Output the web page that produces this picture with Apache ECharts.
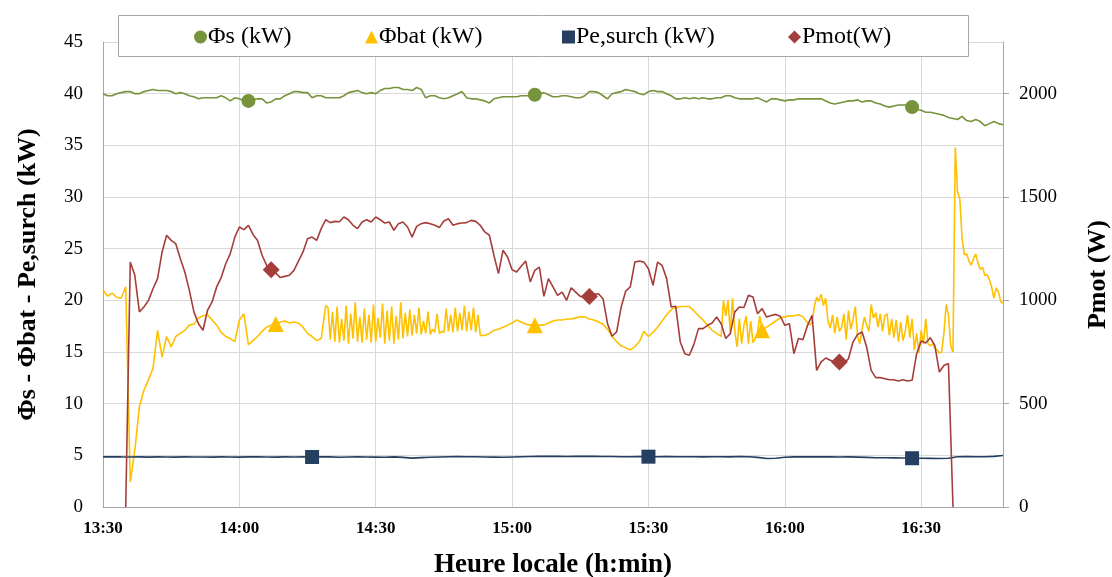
<!DOCTYPE html>
<html><head><meta charset="utf-8">
<script src="https://cdn.jsdelivr.net/npm/echarts@6/dist/echarts.min.js"></script>
<style>html,body{margin:0;padding:0;background:#fff}#c{width:1112px;height:577px}</style>
</head><body><div id="c"></div>
<script>
// time axis in minutes since midnight: 13:30 = 810, 16:48 = 1008
const xMin = 810, xMax = 1008, xInterval = 30;
const seriesNames = ['Φs (kW)', 'Φbat (kW)', 'Pe,surch (kW)', 'Pmot(W)'];

// Φs (kW), one value per minute from 13:30
const phiSStart = 810, phiSStep = 1;
const phiS = [
40.0,39.8,39.8,40.0,40.1,40.2,40.2,40.0,40.0,40.2,
40.3,40.4,40.3,40.3,40.3,40.2,40.0,40.1,40.0,39.8,
39.7,39.5,39.6,39.6,39.6,39.6,39.8,39.6,39.3,39.6,
39.5,39.3,39.3,39.4,39.5,39.5,39.1,39.2,39.5,39.5,
39.8,40.0,40.2,40.2,40.1,40.1,39.6,39.8,39.8,39.6,
39.6,39.6,39.6,39.8,40.1,40.2,40.3,40.1,40.0,40.1,
40.0,40.3,40.5,40.5,40.6,40.6,40.4,40.4,40.3,40.6,
40.4,39.6,39.8,39.8,39.6,39.5,39.6,39.8,40.0,40.2,
39.6,39.5,39.5,39.4,39.3,39.1,39.5,39.6,39.7,39.7,
39.7,39.7,39.8,39.8,39.8,39.9,40.0,40.1,39.9,39.7,
39.7,39.8,39.8,39.7,39.6,39.6,39.8,40.2,40.2,40.1,
39.8,39.5,40.0,40.1,40.2,40.4,40.3,40.2,40.0,39.9,
40.2,40.3,40.2,40.2,40.0,39.8,39.5,39.5,39.6,39.5,
39.6,39.5,39.6,39.5,39.5,39.6,39.6,39.8,39.8,39.6,
39.5,39.5,39.5,39.5,39.6,39.4,39.2,39.5,39.5,39.4,
39.3,39.4,39.4,39.5,39.5,39.5,39.5,39.5,39.5,39.3,
39.1,39.0,39.1,39.2,39.3,39.3,39.4,39.2,39.3,39.3,
39.1,39.0,38.8,38.7,38.8,38.9,38.9,38.9,38.7,38.5,
38.4,38.2,38.2,38.1,38.0,37.9,37.7,37.6,37.5,37.8,
37.4,37.3,37.5,37.3,36.9,37.1,37.3,37.1,37.0
];
const phiSMarkers = [842, 905, 988];

// Φbat (kW) in pieces: [start minute, step] + values
const batA = [
21.0,20.4,20.7,20.3,20.2,21.3,2.4,5.5,9.7,11.3,
12.3,13.4,17.1,14.5,16.5,15.5,16.5,16.8,17.1,17.6,
17.7,18.3,18.5,18.6,18.1,17.6,16.9,16.5,16.3,16.0,
18.1,18.7,15.7,16.1,16.5,17.0,17.4,17.6,17.7,17.9,
18.0,17.8,17.9,17.8,17.4,16.8,16.5,16.1,16.3,19.5
];
const batB = [
19.3,16.2,18.9,16.0,19.4,15.9,18.2,16.1,19.5,15.8,
18.7,16.3,19.8,16.0,18.4,15.9,19.2,16.2,18.6,15.9,
19.6,16.0,18.3,16.4,19.7,15.8,19.0,16.1,19.4,15.8,
18.5,16.2,19.8,16.3,18.8,16.5,19.1,16.6,18.6,16.8,
19.3,16.7,18.0,16.8,18.9,16.7,17.2,16.9,18.7,16.8,
17.0,16.9,19.2,17.0,18.6,16.9,19.3,17.0,18.8,17.1,
19.5,17.0,18.9,17.1,19.3,16.9,18.6,16.6
];
const batC = [
16.6,16.8,17.1,17.2,17.4,17.6,17.8,18.1,17.9,17.7,
17.6,17.6,17.6,17.6,17.8,18.0,18.1,18.1,18.2,18.2,
18.3,18.4,18.4,18.2,18.1,17.9,17.7,17.2,16.5,16.0,
15.6,15.4,15.2,15.5,16.0,17.0,16.5,16.9,17.4,18.0,
18.6,19.1,19.3,19.4,19.4,19.4,19.0,18.5,18.1,17.6,
17.1,16.8,16.5
];
const batD = [20.0,18.5,20.0,16.9,20.2,17.0,15.5,18.2,15.8,17.6,18.5,15.8,18.0,15.9,16.3,16.9,18.5];
const batE = [17.1,17.4,17.7,18.0,18.3,18.4,18.5,18.5,18.6,18.4];
const batF = [
17.8,17.6,17.9,19.4,20.3,19.9,20.6,19.5,20.2,18.0,
17.3,18.6,16.8,18.4,17.0,17.4,18.7,16.2,19.0,17.2,
18.1,19.4,16.5,15.8,17.2,18.4,17.6,17.0,19.6,18.3,
18.8,17.4,18.7,17.0,18.5,18.7,16.6,18.2,16.4,18.1,
16.0,17.9,16.1,17.0,18.6,16.4,18.2,15.2,16.8,14.9,
17.1,15.8,18.2,15.8,15.6,15.8,15.4,15.2,14.9,15.0,
16.8,19.6,18.6,15.6,15.0,34.8,30.5,29.8,26.0,24.4,
24.5,23.8,23.4,24.0,24.5,23.6,23.0,23.2,22.4,22.5,
22.0,21.3,20.2,21.2,20.8,19.9,19.7
];
const batPieces = [[810,1,batA],[859.5,0.5,batB],[894,1,batC],[946.5,0.5,batD],[955,1,batE],[965,0.5,batF]];
const batMarkers = [848, 905, 955];

// Pe,surch (kW), every 2 minutes from 13:30
const peStart = 810, peStep = 2;
const peSurch = [
4.85,4.87,4.85,4.84,4.85,4.83,4.85,4.84,4.83,4.85,
4.84,4.84,4.83,4.85,4.84,4.83,4.85,4.86,4.84,4.83,
4.85,4.84,4.85,4.84,4.86,4.85,4.82,4.84,4.85,4.84,
4.83,4.82,4.85,4.80,4.73,4.78,4.82,4.84,4.86,4.88,
4.87,4.86,4.84,4.83,4.82,4.84,4.86,4.88,4.90,4.91,
4.90,4.89,4.90,4.91,4.90,4.89,4.88,4.87,4.86,4.88,
4.87,4.86,4.88,4.87,4.86,4.86,4.85,4.87,4.86,4.85,
4.88,4.87,4.80,4.70,4.72,4.82,4.85,4.86,4.85,4.86,
4.85,4.84,4.85,4.83,4.80,4.77,4.76,4.75,4.74,4.72,
4.72,4.71,4.70,4.72,4.86,4.88,4.87,4.86,4.90,4.98
];
const peMarkers = [856, 930, 988];

// Pmot (W), one value per minute from 13:35
const pmotStart = 815, pmotStep = 1;
const pmot = [
0,1185,1121,944,968,1000,1056,1105,1234,1315,
1290,1274,1202,1137,1048,944,887,855,952,992,
1065,1110,1177,1226,1306,1355,1342,1363,1319,1290,
1218,1169,1148,1132,1110,1116,1121,1145,1190,1234,
1298,1306,1290,1347,1390,1376,1382,1380,1403,1390,
1363,1347,1379,1390,1379,1403,1390,1374,1379,1339,
1371,1379,1355,1306,1358,1371,1376,1371,1363,1352,
1384,1395,1363,1371,1374,1376,1387,1382,1363,1331,
1315,1218,1129,1242,1210,1148,1137,1165,1190,1089,
1145,1161,1019,1105,1065,1024,1040,1000,1061,1040,
1019,1016,1019,1029,1032,1008,887,826,847,968,
1045,1065,1185,1190,1185,1153,1073,1185,1169,1105,
968,971,798,742,734,787,863,863,879,890,
919,887,815,839,944,968,965,1024,1016,935,
960,919,927,932,923,879,887,742,815,810,
879,927,661,702,721,710,702,702,694,718,
798,835,847,774,661,626,626,621,616,616,
610,616,610,613,742,803,794,819,782,653,
685,694,0
];
const pmotMarkers = [847, 917, 972];

function seq(start, step, vals){ return vals.map((v,i)=>[start + i*step, v]); }
const phiSData = seq(phiSStart, phiSStep, phiS);
const batData = batPieces.reduce((acc,p)=>acc.concat(seq(p[0],p[1],p[2])), []);
const peData = seq(peStart, peStep, peSurch);
const pmotData = seq(pmotStart, pmotStep, pmot);

const colors = ['#77933C', '#FFC000', '#243F60', '#A43E3A'];
const icons = ['circle', 'triangle', 'rect', 'diamond'];
const FONT = 'Liberation Serif';

function hm(v){ const h = Math.floor(v/60), m = Math.round(v%60); return h + ':' + (m<10?'0':'') + m; }
function markSym(list, shape){ return function(val){ return list.indexOf(val[0]) >= 0 ? shape : 'none'; }; }

const chart = echarts.init(document.getElementById('c'), null, {renderer:'canvas'});
const legendLefts = [189, 360, 557, 783];
chart.setOption({
  animation: false,
  backgroundColor: '#fff',
  grid: {left: 103, right: 109, top: 42, bottom: 70, containLabel: false, outerBoundsMode: 'none'},
  graphic: [{type:'rect', z: 100, shape:{x:118.5, y:15.5, width:850, height:41}, style:{fill:'#fff', stroke:'#a6a6a6', lineWidth:1}}],
  legend: seriesNames.map((n,i)=>({
    z: 110, left: legendLefts[i], top: 20, selectedMode: false,
    itemWidth: 13, itemHeight: 13, itemGap: 0,
    data: [{name: n, icon: icons[i], itemStyle:{color: colors[i]}}],
    textStyle: {fontFamily: FONT, fontSize: 24, color: '#000', padding:[0,0,0,-4]}
  })),
  xAxis: {
    type: 'value', min: xMin, max: xMax, interval: xInterval,
    name: 'Heure locale (h:min)', nameLocation: 'middle', nameGap: 45,
    nameTextStyle: {fontFamily: FONT, fontSize: 27, fontWeight: 'bold', color: '#000'},
    axisLine: {show: true, lineStyle: {color: '#a6a6a6', width: 1}},
    axisTick: {show: false},
    axisLabel: {formatter: hm, showMaxLabel: false, margin: 13, fontFamily: FONT, fontSize: 17, fontWeight: 'bold', color: '#000'},
    splitLine: {show: true, lineStyle: {color: '#d9d9d9', width: 1}}
  },
  yAxis: [{
    type: 'value', min: 0, max: 45, interval: 5, position: 'left',
    name: 'Φs - Φbat - Pe,surch (kW)', nameLocation: 'middle', nameRotate: 90, nameGap: 62,
    nameTextStyle: {fontFamily: FONT, fontSize: 26, fontWeight: 'bold', color: '#000'},
    axisLine: {show: true, lineStyle: {color: '#a6a6a6', width: 1}},
    axisTick: {show: false},
    axisLabel: {margin: 20, fontFamily: FONT, fontSize: 19, color: '#000'},
    splitLine: {show: true, lineStyle: {color: '#d9d9d9', width: 1}}
  }, {
    type: 'value', min: 0, max: 2250, interval: 500, position: 'right',
    name: 'Pmot (W)', nameLocation: 'middle', nameRotate: 90, nameGap: 82,
    nameTextStyle: {fontFamily: FONT, fontSize: 26, fontWeight: 'bold', color: '#000'},
    axisLine: {show: true, lineStyle: {color: '#a6a6a6', width: 1}},
    axisTick: {show: true, inside: false, length: 6, lineStyle: {color: '#a6a6a6'}},
    axisLabel: {showMaxLabel: false, margin: 16, formatter: function(v){ return String(v); }, fontFamily: FONT, fontSize: 19, color: '#000'},
    splitLine: {show: false}
  }],
  series: [
    {name: seriesNames[0], type:'line', data: phiSData, yAxisIndex:0, showSymbol:true, showAllSymbol:true,
     symbol: markSym(phiSMarkers,'circle'), symbolSize: 14, itemStyle:{color: colors[0]},
     lineStyle:{color: colors[0], width: 1.6}, z: 2},
    {name: seriesNames[1], type:'line', data: batData, yAxisIndex:0, showSymbol:true, showAllSymbol:true,
     symbol: markSym(batMarkers,'triangle'), symbolSize: 16, itemStyle:{color: colors[1]},
     lineStyle:{color: colors[1], width: 1.6}, z: 3},
    {name: seriesNames[2], type:'line', data: peData, yAxisIndex:0, showSymbol:true, showAllSymbol:true,
     symbol: markSym(peMarkers,'rect'), symbolSize: 14, itemStyle:{color: colors[2]},
     lineStyle:{color: colors[2], width: 1.6}, z: 4},
    {name: seriesNames[3], type:'line', data: pmotData, yAxisIndex:1, showSymbol:true, showAllSymbol:true,
     symbol: markSym(pmotMarkers,'diamond'), symbolSize: 17, itemStyle:{color: colors[3]},
     lineStyle:{color: colors[3], width: 1.6}, z: 5}
  ]
});
</script></body></html>
